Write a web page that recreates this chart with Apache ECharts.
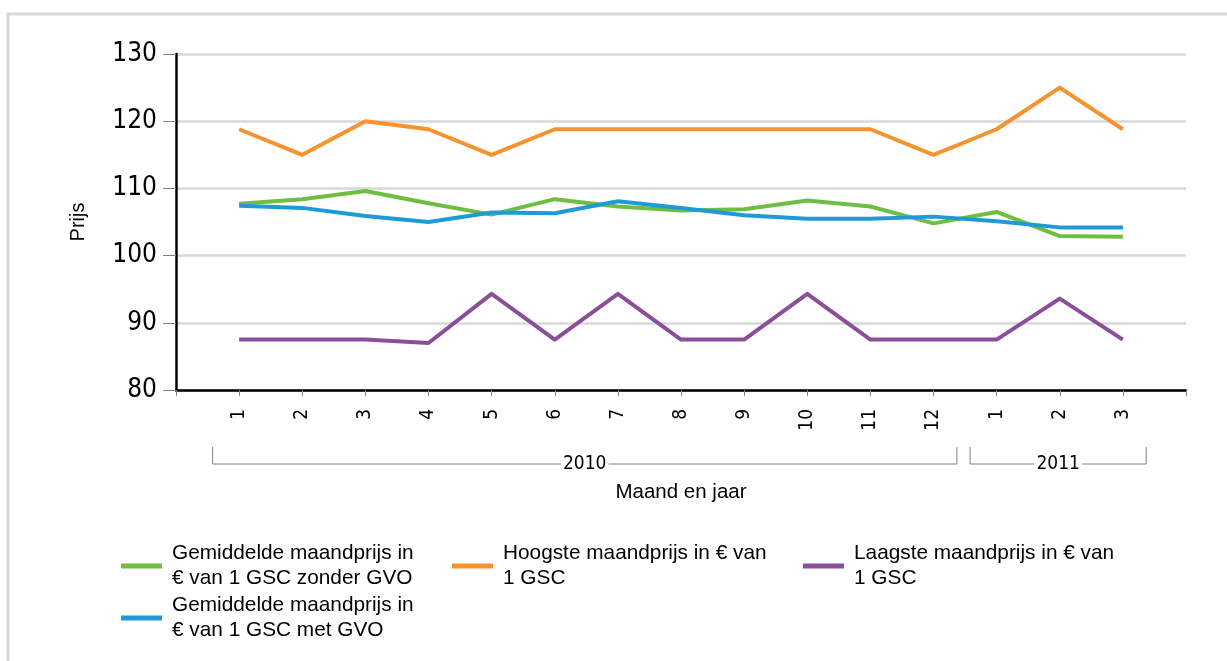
<!DOCTYPE html>
<html>
<head>
<meta charset="utf-8">
<script src="https://cdn.jsdelivr.net/npm/echarts@6/dist/echarts.min.js"></script>
<style>
  html, body { margin: 0; padding: 0; background: #fff; }
  #chart { width: 1227px; height: 661px; }
</style>
</head>
<body>
<div id="chart"></div>
<script>
// maand labels on the x axis, grouped per jaar
const months = ["1", "2", "3", "4", "5", "6", "7", "8", "9", "10", "11", "12", "1", "2", "3"];
const years = ["2010", "2011"];
const yearMonthCount = [12, 3];

// prijs in euro per GSC
const gemZonderGvo = [107.7, 108.4, 109.6, 107.8, 106.1, 108.4, 107.3, 106.7, 106.9, 108.2, 107.3, 104.8, 106.5, 102.9, 102.8];
const hoogste = [118.8, 115.0, 120.0, 118.8, 115.0, 118.8, 118.8, 118.8, 118.8, 118.8, 118.8, 115.0, 118.8, 125.0, 118.8];
const laagste = [87.5, 87.5, 87.5, 87.0, 94.3, 87.5, 94.3, 87.5, 87.5, 94.3, 87.5, 87.5, 87.5, 93.6, 87.5];
const gemMetGvo = [107.4, 107.1, 105.9, 105.0, 106.4, 106.3, 108.1, 107.1, 106.0, 105.5, 105.5, 105.8, 105.1, 104.2, 104.2];

const yTicks = [80, 90, 100, 110, 120, 130];

const names = {
  zonder: "Gemiddelde maandprijs in\n€ van 1 GSC zonder GVO",
  hoog: "Hoogste maandprijs in € van\n1 GSC",
  laag: "Laagste maandprijs in € van\n1 GSC",
  met: "Gemiddelde maandprijs in\n€ van 1 GSC met GVO",
};

const toPoints = (arr) => arr.map((v, i) => [i + 1, v]);

const chart = echarts.init(document.getElementById("chart"));

const sans = "Liberation Sans, Arial, sans-serif";
const narrow = "DejaVu Sans Condensed, DejaVu Sans, sans-serif";

const legendText = {
  fontFamily: sans,
  fontSize: 20.8,
  lineHeight: 25,
  color: "#000",
  padding: [0, 0, 0, 5],
};
const makeLegend = (name, left, top) => ({
  data: [name],
  left: left,
  top: top,
  padding: 0,
  orient: "horizontal",
  icon: "rect",
  itemWidth: 41,
  itemHeight: 5,
  selectedMode: false,
  textStyle: legendText,
});

const makeLine = (name, data, color) => ({
  name: name,
  type: "line",
  data: toPoints(data),
  showSymbol: false,
  symbol: "none",
  lineStyle: { color: color, width: 4, join: "round" },
  itemStyle: { color: color },
  animation: false,
});

chart.setOption({
  animation: false,
  grid: { left: 176, top: 54, right: 41, bottom: 271 },
  xAxis: {
    type: "value",
    min: 0,
    max: months.length + 1,
    interval: 1,
    name: "Maand en jaar",
    nameLocation: "middle",
    nameGap: 92,
    nameTextStyle: { fontFamily: sans, fontSize: 20.5, color: "#000" },
    axisLine: { show: true, lineStyle: { color: "#000", width: 2.5 } },
    axisTick: { show: true, length: 6, lineStyle: { color: "#808080", width: 1 } },
    axisLabel: {
      rotate: 90,
      margin: 19,
      fontFamily: narrow,
      fontSize: 19,
      color: "#000",
      formatter: (v) => months[v - 1] || "",
    },
    splitLine: { show: false },
  },
  yAxis: {
    type: "value",
    min: yTicks[0],
    max: yTicks[yTicks.length - 1],
    interval: 10,
    name: "Prijs",
    nameLocation: "middle",
    nameRotate: 90,
    nameGap: 88,
    nameTextStyle: { fontFamily: sans, fontSize: 20, color: "#000" },
    axisLine: { show: true, lineStyle: { color: "#000", width: 2.5 } },
    axisTick: { show: true, length: 13, lineStyle: { color: "#808080", width: 1 } },
    axisLabel: {
      margin: 19,
      fontFamily: narrow,
      fontSize: 26,
      color: "#000",
    },
    splitLine: { show: true, lineStyle: { color: "#d9d9d9", width: 2.5 } },
  },
  legend: [
    makeLegend(names.zonder, 121, 541),
    makeLegend(names.hoog, 452, 541),
    makeLegend(names.laag, 803, 541),
    makeLegend(names.met, 121, 593),
  ],
  series: [
    makeLine(names.zonder, gemZonderGvo, "#6fbe44"),
    makeLine(names.hoog, hoogste, "#f7932f"),
    makeLine(names.laag, laagste, "#8b4f9a"),
    makeLine(names.met, gemMetGvo, "#1e9bd7"),
  ],
});

// frame and jaar brackets under the month labels
const bracketTop = 447;
const bracketBottom = 464;
const graphics = [
  {
    type: "polyline",
    shape: { points: [[8, 700], [8, 14], [1240, 14]] },
    style: { stroke: "#d9d9d9", lineWidth: 3, fill: null },
    silent: true,
  },
];
let start = 1;
years.forEach((year, i) => {
  const n = yearMonthCount[i];
  const x0 = chart.convertToPixel({ xAxisIndex: 0 }, start - 0.42);
  const x1 = chart.convertToPixel({ xAxisIndex: 0 }, start + n - 1 + 0.37);
  graphics.push({
    type: "polyline",
    shape: { points: [[x0, bracketTop], [x0, bracketBottom], [x1, bracketBottom], [x1, bracketTop]] },
    style: { stroke: "#808080", lineWidth: 1, fill: null },
    silent: true,
  });
  graphics.push({
    type: "text",
    x: (x0 + x1) / 2,
    y: bracketBottom,
    style: {
      text: year,
      fontFamily: narrow,
      fontSize: 19,
      fill: "#000",
      align: "center",
      verticalAlign: "middle",
      backgroundColor: "#fff",
      padding: [0, 2],
    },
    silent: true,
  });
  start += n;
});
chart.setOption({ graphic: graphics });
</script>
</body>
</html>
